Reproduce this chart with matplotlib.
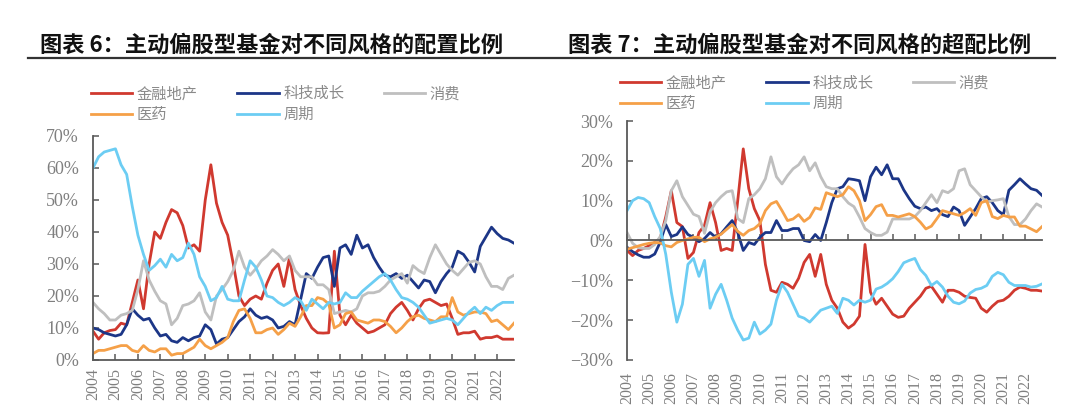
import numpy as np
import matplotlib
matplotlib.use("Agg")
import matplotlib.pyplot as plt
from matplotlib.lines import Line2D
from matplotlib.ticker import PercentFormatter

CJK = ["Noto Sans CJK SC", "DejaVu Sans"]
NUM = "Liberation Serif"

years = ["2004", "2005", "2006", "2007", "2008", "2009", "2010", "2011", "2012", "2013",
         "2014", "2015", "2016", "2017", "2018", "2019", "2020", "2021", "2022"]
names = ["金融地产", "科技成长", "消费", "医药", "周期"]
colors = ["#d0392f", "#1c3687", "#bfbfbf", "#f5a048", "#6ccdf3"]

# quarterly, 2004Q1 .. 2022Q4 (%)
alloc_fin = [9, 6.5, 8.5, 9.2, 9.5, 11.5, 11, 18, 25, 16,
             30, 40, 38, 43, 47, 46, 42, 35, 36, 34,
             50, 61, 49, 43, 39, 30, 20, 17, 19, 20,
             19, 24, 28, 30, 23, 32, 22, 17, 13, 10,
             8.5, 8.4, 8.5, 34, 14, 11, 14, 11.5, 10, 8.5,
             9, 10, 11, 14.5, 16.5, 18, 15.5, 12.5, 16, 18.5,
             19, 18, 17, 17.5, 13, 8, 8.5, 8.5, 9, 6.5,
             7, 7, 7.5, 6.5, 6.5, 6.5]
alloc_tech = [10, 9.5, 8.5, 8, 7.5, 8, 11, 16, 14, 12.5,
              13, 10, 7.5, 8, 6, 5.5, 7, 6, 7, 7.5,
              11, 9.5, 5, 6.5, 7, 9.5, 12, 13.5, 16, 14,
              13, 13.5, 12.5, 10, 10.5, 12, 11, 19, 27, 25.5,
              29, 32, 32.5, 23, 35, 36, 33, 39, 35, 36,
              32, 29, 26.5, 26, 27, 25.5, 26.5, 24.5, 22.5, 25,
              24.5, 21, 24.5, 27, 29, 34, 33, 30.5, 27.5, 35.5,
              38.5, 41.5, 39.5, 38, 37.5, 36.5]
alloc_cons = [18, 16, 14.5, 12.5, 12.5, 14, 14.5, 15.5, 22, 31,
              25, 21.5, 18.5, 17.5, 11, 13, 17, 17.5, 18.5, 21,
              15, 12.5, 20, 22, 24.5, 28, 34, 29, 26.5, 28.5,
              31, 32.5, 34.5, 33, 31, 32.5, 28, 26, 26, 26,
              23.5, 23.5, 22, 14.5, 15, 15.5, 15, 16, 20, 21,
              21, 21.5, 23, 25, 26, 27, 24, 29.5, 28, 27,
              32, 36, 33, 30, 28, 26.5, 28.5, 30.5, 31, 30,
              26, 23, 23, 22, 25.5, 26.5]
alloc_med = [2, 3, 3, 3.5, 4, 4.5, 4.5, 3, 2.5, 4.5,
             3, 2.5, 3.5, 3.5, 1.5, 2, 2, 3, 4, 6.5,
             4.5, 3.5, 4.5, 5.5, 7, 12, 15.5, 16, 13, 8.5,
             8.5, 9.5, 10, 8, 9.5, 11.5, 10.5, 13.5, 17, 17,
             19.5, 19, 17.5, 10, 11, 14.5, 15, 12.5, 12, 11.5,
             12.5, 12.5, 12, 10.5, 8.5, 10, 12, 13.5, 14, 13,
             12.5, 12, 13.5, 13.5, 19.5, 15, 14, 14.5, 15, 15,
             14.5, 12, 12.5, 11, 9.5, 11.5]
alloc_cyc = [60, 63.5, 65, 65.5, 66, 61, 58, 48, 39, 33,
             28, 29.5, 31.5, 29, 33, 31, 32, 36.5, 33, 26,
             23, 18.5, 19.5, 23, 19, 18.5, 18.5, 25, 31, 29,
             25, 20, 19.5, 18, 17, 18, 19.5, 18.5, 15.5, 19,
             17.5, 16, 18, 17.5, 18, 21, 19.5, 19.5, 21.5, 23,
             24.5, 26, 27, 25, 22, 19.5, 19, 18, 16.5, 14,
             11.5, 12, 12.5, 13, 12.5, 11, 13, 15, 16.5, 14.5,
             16.5, 15.5, 17, 18, 18, 18]

over_fin = [-2.5, -3.8, -2.5, -2, -1.3, -0.5, 0.5, 6, 12.5, 4.5,
            3.5, -4.5, -3, 2, 3.8, 9.5, 4.5, -2.5, -2, -2.5,
            10, 23, 13, 8, 5, -6, -12.5, -13, -10.5, -11,
            -12, -9.5, -5.5, -3.5, -9, -3.5, -11, -15, -17, -20.5,
            -22, -21, -19, -1, -13, -16, -14.5, -16.5, -18.5, -19.3,
            -19, -17, -15.5, -14, -12, -11.5, -13.5, -15.5, -12.5, -12.5,
            -13, -14, -14.3, -14.5, -17, -18, -16.5, -15.3, -15, -14,
            -12.5, -11.7, -12, -12.5, -12.5, -12.7]
over_tech = [-1.7, -2.8, -3.6, -4.2, -4.2, -3.4, -0.4, 4, 1, 1.5,
             3.4, 1.5, 0.8, -0.3, 0.5, 2, 0.8, 1.7, 3.4, 5,
             2, -2.5, -0.5, -1, 0.8, 2, 2, 5, 2.5, 2.5,
             3, 3, 0, -0.3, 1.5, 0, 4.5, 9.5, 13, 13.5,
             15.5, 15.3, 15, 10, 16, 18.4, 16.5, 19, 15.5, 15.5,
             12.7, 10.5, 8.6, 8, 8.4, 7.5, 8, 6.5, 6, 8.4,
             7.5, 3.8, 5.9, 8, 10.5, 11, 9.5, 7.5, 6.5, 12.6,
             14, 15.5, 14.2, 13, 12.6, 11.3]
over_cons = [2, -0.7, -1.8, -2, -2, -1, 1, 5, 12.5, 15,
             11, 8.8, 6.6, 6, 1.8, 7.2, 9.5, 11, 12.2, 12.5,
             5.5, 4.5, 10.5, 11.5, 13, 15.5, 21, 16, 14.2, 16.3,
             18, 19, 21, 17.5, 19.5, 16, 13.5, 13, 13, 11,
             9.4, 8.5, 5.9, 3, 2, 1.3, 1.3, 2.1, 5.4, 5.4,
             5.4, 5.4, 6, 7.5, 9.5, 11.5, 9.5, 12.5, 12, 13,
             17.5, 18, 14, 12.5, 11, 9.6, 10, 10.2, 10.5, 6,
             4, 4, 5.4, 7.5, 9.2, 8.4]
over_med = [-2.2, -1.8, -1.4, -1, -0.7, -0.5, -0.6, -1.3, -1.6, -0.5,
            0, 0.4, 0.8, 0.8, -0.3, 0.4, 0.8, 1.6, 2.8, 4,
            2.3, 1.3, 2.5, 3, 4.2, 7.5, 9.2, 9.8, 7.5, 5,
            5.4, 6.5, 4.8, 5.8, 8.2, 7.8, 12, 11.5, 11, 11.5,
            13.5, 12.5, 10, 5, 6.5, 8.5, 9, 6.3, 6.3, 5.9,
            6.3, 6.7, 6, 4.6, 2.9, 3.6, 5.5, 7.5, 7.1, 6.7,
            6.3, 7, 8, 6.3, 9.5, 10, 6, 5.5, 6.3, 5.9,
            5.9, 3.6, 3.6, 2.9, 2.2, 3.5]
over_cyc = [7.5, 10, 10.8, 10.5, 9.5, 6, 3, -3.5, -13, -20.5,
            -16, -6, -4.5, -9, -5, -17, -13.5, -11, -15, -19.5,
            -22.5, -25, -24.5, -20.5, -23.5, -22.5, -21, -15, -11, -13,
            -16, -19, -19.5, -20.5, -19, -17.5, -17, -16.5, -18.3, -14.5,
            -15, -16.2, -15, -15.5, -15, -12.2, -11.7, -10.8, -9.6, -7.8,
            -5.6, -5, -4.5, -7.3, -8.8, -11.3, -10.3, -11.7, -14, -15.5,
            -15.9, -15.2, -13.2, -12.3, -12, -11.3, -9, -8, -8.6, -10.5,
            -11.3, -11.3, -11.3, -11.7, -11.5, -10.9]

alloc = [alloc_fin, alloc_tech, alloc_cons, alloc_med, alloc_cyc]
over = [over_fin, over_tech, over_cons, over_med, over_cyc]

SPINE = "#595959"
TXT = "#7f7f7f"

fig = plt.figure(figsize=(10.8, 4.2), dpi=100)
ax1 = fig.add_axes([0.0861, 0.1429, 0.3898, 0.5333])
ax2 = fig.add_axes([0.5806, 0.1429, 0.3843, 0.5690])

x = np.arange(len(alloc_fin))
year_pos = np.arange(len(years)) * 4


def style(ax, ylim, step):
    ax.set_xlim(0, len(x) - 1)
    ax.set_ylim(*ylim)
    ax.set_yticks(np.arange(ylim[0], ylim[1] + 0.1, step))
    ax.yaxis.set_major_formatter(PercentFormatter(decimals=0))
    ax.set_xticks(year_pos)
    for s in ["top", "right"]:
        ax.spines[s].set_visible(False)
    for s in ["left", "bottom"]:
        ax.spines[s].set_color(SPINE)
        ax.spines[s].set_linewidth(1.3)
    ax.tick_params(axis="both", direction="in", length=4, width=1.1, color=SPINE)
    ax.tick_params(axis="y", labelsize=13, labelcolor=TXT, pad=10)
    for t in ax.get_yticklabels():
        t.set_family(NUM)


handles = []
for vals, name, c in zip(alloc, names, colors):
    h, = ax1.plot(x, vals, color=c, lw=2.0, label=name, solid_joinstyle="round")
    handles.append(h)
for vals, c in zip(over, colors):
    ax2.plot(x, vals, color=c, lw=2.0, solid_joinstyle="round")

style(ax1, (0, 70), 10)
style(ax2, (-30, 30), 10)

ax1.set_xticklabels(years, rotation=90, family=NUM, fontsize=11.5, color=TXT)
ax1.tick_params(axis="x", pad=6)

ax2.spines["bottom"].set_position(("data", 0))
ax2.tick_params(axis="x", labelbottom=False)
for p, lab in zip(year_pos, years):
    ax2.text(p, -0.05, lab, transform=ax2.get_xaxis_transform(), rotation=90,
             ha="center", va="top", family=NUM, fontsize=11.5, color=TXT)

# legends, row-major order
order = [0, 3, 1, 4, 2]
leg_kw = dict(ncol=3, frameon=False, handlelength=2.7, handletextpad=0.3,
              columnspacing=2.6, labelspacing=0.25, borderpad=0, borderaxespad=0,
              prop={"family": CJK, "size": 11}, labelcolor="#8a8a8a", loc="upper left")
fig.legend([handles[i] for i in order], [names[i] for i in order],
           bbox_to_anchor=(0.084, 0.797), **leg_kw)
fig.legend([handles[i] for i in order], [names[i] for i in order],
           bbox_to_anchor=(0.574, 0.823), **leg_kw)

fig.text(0.037, 0.893, "图表 6：主动偏股型基金对不同风格的配置比例", family=CJK,
         fontsize=16, fontweight="bold", color="#111111", va="center")
fig.text(0.526, 0.893, "图表 7：主动偏股型基金对不同风格的超配比例", family=CJK,
         fontsize=16, fontweight="bold", color="#111111", va="center")
fig.add_artist(Line2D([0.026, 0.977], [0.862, 0.862], transform=fig.transFigure,
                      color="#333333", lw=1.6))

fig.savefig("out.png", dpi=100)
